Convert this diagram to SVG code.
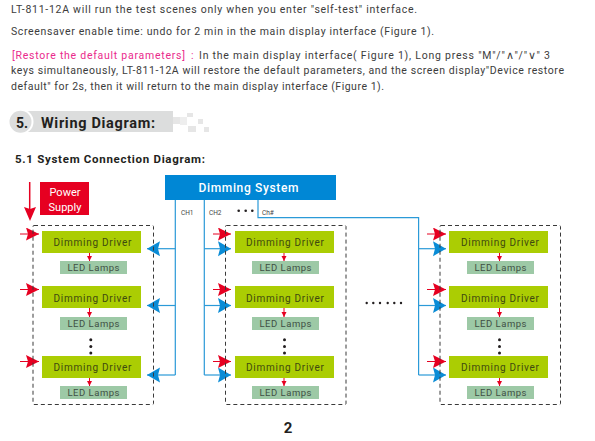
<svg xmlns="http://www.w3.org/2000/svg" width="595" height="441" viewBox="0 0 595 441">
<style>
text{font-family:"Roboto","Liberation Sans",sans-serif;fill:#3c3c3c}
.p{font-size:10.500px}
.drv rect{fill:#abcd03}
.drv text{font-size:10px;fill:#3f4a10;text-anchor:middle}
.lmp rect{fill:#9dc9a6}
.lmp text{font-size:9.500px;fill:#3f4f44;text-anchor:middle}
.box{fill:none;stroke:#3a3a3a;stroke-width:1;stroke-dasharray:4 3}
.dot{fill:#231f20}
.ch{font-size:6.500px;fill:#444}
.bl{fill:none;stroke:#2b9ad8;stroke-width:1.200}
.br{fill:none;stroke:#e60021;stroke-width:1;marker-end:url(#rh)}
.bb{fill:none;stroke:#2b9ad8;stroke-width:1.200;marker-end:url(#bh)}
.rs{fill:none;stroke:#e60021;stroke-width:1;marker-end:url(#rs)}
.sq{fill:#e6e6e6}
.k{fill:#231f20}
</style>
<defs>
<marker id="rh" markerUnits="userSpaceOnUse" markerWidth="14" markerHeight="14" refX="13" refY="6.500" orient="auto"><path d="M0 0L13 6.500L0 13L2 6.500Z" fill="#e60021"/></marker>
<marker id="bh" markerUnits="userSpaceOnUse" markerWidth="14" markerHeight="16" refX="13" refY="7.500" orient="auto"><path d="M0 0L13 7.500L0 15L2 7.500Z" fill="#0a8cd6"/></marker>
<marker id="rs" markerUnits="userSpaceOnUse" markerWidth="6" markerHeight="6" refX="5" refY="2.500" orient="auto"><path d="M0 0L5 2.500L0 5Z" fill="#e60021"/></marker>
</defs>

<text class="p" x="11" y="12.500" textLength="406">LT-811-12A will run the test scenes only when you enter "self-test" interface.</text>
<text class="p" x="11" y="34.500" textLength="423">Screensaver enable time: undo for 2 min in the main display interface (Figure 1).</text>
<text class="p" x="12" y="58.500" textLength="173" style="fill:#ea2a8c">[Restore the default parameters]</text>
<text class="p" x="191" y="58.500" style="fill:#ea2a8c">:</text>
<text class="p" x="199" y="58.500" textLength="351">In the main display interface( Figure 1), Long press "M"/"∧"/"∨" 3</text>
<text class="p" x="11" y="74" textLength="553">keys simultaneously, LT-811-12A will restore the default parameters, and the screen display"Device restore</text>
<text class="p" x="11" y="89.500" textLength="373">default" for 2s, then it will return to the main display interface (Figure 1).</text>

<g id="section-heading">
<rect x="21" y="111" width="152" height="21" fill="#dcdddd"/>
<circle cx="21" cy="121.700" r="12.500" fill="#fff"/>
<circle cx="20.500" cy="121.700" r="11" fill="#dcdddd"/>
<rect class="sq" x="173" y="117" width="7" height="7"/>
<rect x="180" y="117" width="7" height="8" fill="#eeeeee"/>
<rect class="sq" x="187" y="113" width="6" height="4"/>
<rect class="sq" x="198" y="119" width="5" height="5"/>
<rect class="sq" x="188" y="126" width="8" height="6"/>
<rect class="sq" x="204" y="127" width="5" height="5"/>
<text class="k" x="16" y="127.500" font-size="14" font-weight="700" style="fill:#231f20">5.</text>
<text class="k" x="41" y="127.500" font-size="14.500" font-weight="700" textLength="114" style="fill:#231f20">Wiring Diagram:</text>
</g>
<text x="15" y="163.300" font-size="11.500" font-weight="700" textLength="190" style="fill:#231f20">5.1 System Connection Diagram:</text>

<g id="connectors">
<path class="bl" d="M175.300 200V375M204.300 200V375M258 200V217.600H418.600V375"/>
<path class="bb" d="M175.300 248.700H147"/>
<path class="bb" d="M175.300 305.500H147"/>
<path class="bb" d="M175.300 375H147"/>
<path class="bb" d="M204.300 248.700H231"/>
<path class="bb" d="M204.300 305.500H231"/>
<path class="bb" d="M204.300 375H231"/>
<path class="bb" d="M418.600 248.700H446"/>
<path class="bb" d="M418.600 305.500H446"/>
<path class="bb" d="M418.600 375H446"/>
<path class="br" d="M20 234H39"/>
<path class="br" d="M20 289.500H39"/>
<path class="br" d="M20 361.500H39"/>
<path class="br" d="M213 234H231"/>
<path class="br" d="M213 289.500H231"/>
<path class="br" d="M213 361.500H231"/>
<path class="br" d="M427 234H446"/>
<path class="br" d="M427 289.500H446"/>
<path class="br" d="M427 361.500H446"/>
<path class="rs" d="M89.500 253V261"/>
<path class="rs" d="M89.500 308V317"/>
<path class="rs" d="M89.500 378V386"/>
<path class="rs" d="M284 253V261"/>
<path class="rs" d="M284 308V317"/>
<path class="rs" d="M284 378V386"/>
<path class="rs" d="M499.500 253V261"/>
<path class="rs" d="M499.500 308V317"/>
<path class="rs" d="M499.500 378V386"/>
<path d="M29.700 182V209" stroke="#e60021" stroke-width="1.500" fill="none"/>
<path d="M24 207L30 209L36 207L30 221Z" fill="#e60021"/>
</g>

<g id="dimming-system"><rect x="165" y="175" width="171" height="25" fill="#0087d5"/><text x="248.500" y="191.500" font-size="12" font-weight="500" text-anchor="middle" textLength="100" style="fill:#fff">Dimming System</text></g>
<g id="power-supply"><rect x="40" y="182" width="49" height="33" fill="#e60021"/><text x="65" y="196" font-size="11" text-anchor="middle" style="fill:#fff">Power</text><text x="65" y="211" font-size="11" text-anchor="middle" style="fill:#fff">Supply</text></g>

<text class="ch" x="181" y="214.500">CH1</text>
<text class="ch" x="209" y="214.500">CH2</text>
<text class="ch" x="262" y="214.500">Ch#</text>
<g id="dots-top" class="dot"><circle cx="238.700" cy="210.700" r="1.300"/><circle cx="245.700" cy="210.700" r="1.300"/><circle cx="252.300" cy="210.700" r="1.300"/></g>
<g id="dots-middle" class="dot"><circle cx="366.700" cy="303" r="1.200"/><circle cx="373.300" cy="303" r="1.200"/><circle cx="380" cy="303" r="1.200"/><circle cx="387.700" cy="303" r="1.200"/><circle cx="394.300" cy="303" r="1.200"/><circle cx="401" cy="303" r="1.200"/></g>

<g id="group-1">
<rect class="box" x="33" y="225.500" width="120.500" height="179" rx="1"/>
<g id="driver-1-1" class="drv"><rect x="42" y="231" width="99" height="22"/><text x="92.500" y="246" textLength="78">Dimming Driver</text></g>
<g id="lamp-1-1" class="lmp"><rect x="60" y="261" width="67" height="13"/><text x="93.500" y="271" textLength="52">LED Lamps</text></g>
<g id="driver-1-2" class="drv"><rect x="42" y="286" width="99" height="22"/><text x="92.500" y="301.500" textLength="78">Dimming Driver</text></g>
<g id="lamp-1-2" class="lmp"><rect x="60" y="317" width="67" height="13"/><text x="93.500" y="327" textLength="52">LED Lamps</text></g>
<g class="dot"><circle cx="90.800" cy="339.700" r="1.500"/><circle cx="90.800" cy="346.500" r="1.500"/><circle cx="90.800" cy="353" r="1.500"/></g>
<g id="driver-1-3" class="drv"><rect x="42" y="356" width="99" height="22"/><text x="92.500" y="371" textLength="78">Dimming Driver</text></g>
<g id="lamp-1-3" class="lmp"><rect x="60" y="386" width="67" height="13"/><text x="93.500" y="396" textLength="52">LED Lamps</text></g>
</g>

<g id="group-2">
<rect class="box" x="225.500" y="225.500" width="120.500" height="179" rx="1"/>
<g id="driver-2-1" class="drv"><rect x="235" y="231" width="99" height="22"/><text x="285" y="246" textLength="78">Dimming Driver</text></g>
<g id="lamp-2-1" class="lmp"><rect x="252" y="261" width="67" height="13"/><text x="285.500" y="271" textLength="52">LED Lamps</text></g>
<g id="driver-2-2" class="drv"><rect x="235" y="286" width="99" height="22"/><text x="285" y="301.500" textLength="78">Dimming Driver</text></g>
<g id="lamp-2-2" class="lmp"><rect x="252" y="317" width="67" height="13"/><text x="285.500" y="327" textLength="52">LED Lamps</text></g>
<g class="dot"><circle cx="284.500" cy="339.700" r="1.500"/><circle cx="284.500" cy="346.500" r="1.500"/><circle cx="284.500" cy="353" r="1.500"/></g>
<g id="driver-2-3" class="drv"><rect x="235" y="356" width="99" height="22"/><text x="285" y="371" textLength="78">Dimming Driver</text></g>
<g id="lamp-2-3" class="lmp"><rect x="252" y="386" width="67" height="13"/><text x="285.500" y="396" textLength="52">LED Lamps</text></g>
</g>

<g id="group-3">
<rect class="box" x="440" y="225.500" width="120.500" height="179" rx="1"/>
<g id="driver-3-1" class="drv"><rect x="449" y="231" width="99" height="22"/><text x="500" y="246" textLength="78">Dimming Driver</text></g>
<g id="lamp-3-1" class="lmp"><rect x="467" y="261" width="67" height="13"/><text x="500.500" y="271" textLength="52">LED Lamps</text></g>
<g id="driver-3-2" class="drv"><rect x="449" y="286" width="99" height="22"/><text x="500" y="301.500" textLength="78">Dimming Driver</text></g>
<g id="lamp-3-2" class="lmp"><rect x="467" y="317" width="67" height="13"/><text x="500.500" y="327" textLength="52">LED Lamps</text></g>
<g class="dot"><circle cx="499.500" cy="339.700" r="1.500"/><circle cx="499.500" cy="346.500" r="1.500"/><circle cx="499.500" cy="353" r="1.500"/></g>
<g id="driver-3-3" class="drv"><rect x="449" y="356" width="99" height="22"/><text x="500" y="371" textLength="78">Dimming Driver</text></g>
<g id="lamp-3-3" class="lmp"><rect x="467" y="386" width="67" height="13"/><text x="500.500" y="396" textLength="52">LED Lamps</text></g>
</g>

<text x="288" y="433" font-size="15" font-weight="700" text-anchor="middle" style="fill:#231f20">2</text>
</svg>
